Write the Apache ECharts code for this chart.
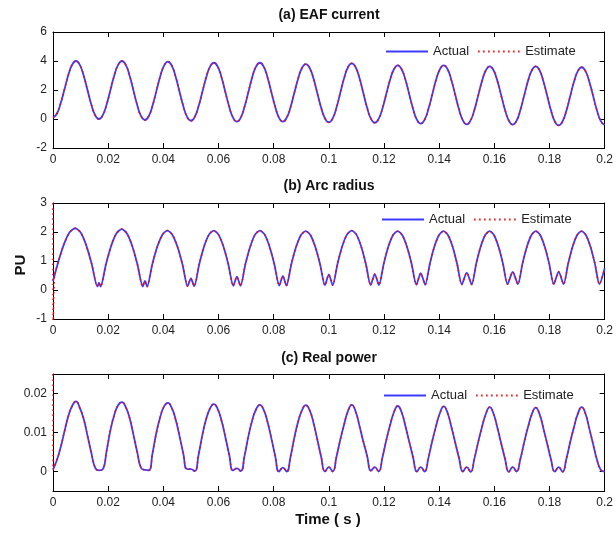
<!DOCTYPE html>
<html>
<head>
<meta charset="utf-8">
<script src="https://cdn.jsdelivr.net/npm/echarts@6/dist/echarts.min.js"></script>
<style>
  html, body { margin: 0; background: #fff; }
  #main { width: 616px; height: 534px; }
</style>
</head>
<body>
<div id="main"></div>
<script>
// sample times (s) for plots (a) and (c)
const time = [
  0, 0.00139, 0.00278, 0.00417, 0.00556, 0.00694, 0.00833, 0.00972, 0.01111, 0.0125, 0.01389, 0.01528,
  0.01667, 0.01806, 0.01944, 0.02083, 0.02222, 0.02361, 0.025, 0.02639, 0.02778, 0.02917, 0.03056, 0.03194,
  0.03333, 0.03472, 0.03611, 0.0375, 0.03889, 0.04028, 0.04167, 0.04306, 0.04444, 0.04583, 0.04722, 0.04861,
  0.05, 0.05139, 0.05278, 0.05417, 0.05556, 0.05694, 0.05833, 0.05972, 0.06111, 0.0625, 0.06389, 0.06528,
  0.06667, 0.06806, 0.06944, 0.07083, 0.07222, 0.07361, 0.075, 0.07639, 0.07778, 0.07917, 0.08056, 0.08194,
  0.08333, 0.08472, 0.08611, 0.0875, 0.08889, 0.09028, 0.09167, 0.09306, 0.09444, 0.09583, 0.09722, 0.09861,
  0.1, 0.10139, 0.10278, 0.10417, 0.10556, 0.10694, 0.10833, 0.10972, 0.11111, 0.1125, 0.11389, 0.11528,
  0.11667, 0.11806, 0.11944, 0.12083, 0.12222, 0.12361, 0.125, 0.12639, 0.12778, 0.12917, 0.13056, 0.13194,
  0.13333, 0.13472, 0.13611, 0.1375, 0.13889, 0.14028, 0.14167, 0.14306, 0.14444, 0.14583, 0.14722, 0.14861,
  0.15, 0.15139, 0.15278, 0.15417, 0.15556, 0.15694, 0.15833, 0.15972, 0.16111, 0.1625, 0.16389, 0.16528,
  0.16667, 0.16806, 0.16944, 0.17083, 0.17222, 0.17361, 0.175, 0.17639, 0.17778, 0.17917, 0.18056, 0.18194,
  0.18333, 0.18472, 0.18611, 0.1875, 0.18889, 0.19028, 0.19167, 0.19306, 0.19444, 0.19583, 0.19722, 0.19861,
  0.2
]

// (a) EAF current
const eafCurrent = [
  0.1, 0.36, 1.08, 2.05, 3.03, 3.74, 4.0, 3.73, 3.0, 2.0, 1.0, 0.27,
  0.0, 0.27, 1.0, 2.0, 3.0, 3.73, 4.0, 3.73, 2.98, 1.97, 0.95, 0.20,
  -0.07, 0.20, 0.94, 1.94, 2.95, 3.68, 3.95, 3.68, 2.93, 1.92, 0.90, 0.15,
  -0.12, 0.15, 0.88, 1.88, 2.88, 3.61, 3.88, 3.61, 2.87, 1.85, 0.84, 0.09,
  -0.18, 0.09, 0.84, 1.85, 2.87, 3.61, 3.88, 3.61, 2.87, 1.85, 0.84, 0.09,
  -0.18, 0.09, 0.81, 1.81, 2.80, 3.52, 3.79, 3.52, 2.79, 1.78, 0.78, 0.04,
  -0.23, 0.04, 0.79, 1.81, 2.82, 3.57, 3.84, 3.57, 2.82, 1.79, 0.77, 0.01,
  -0.26, 0.01, 0.73, 1.72, 2.71, 3.43, 3.70, 3.43, 2.70, 1.69, 0.69, -0.05,
  -0.32, -0.05, 0.69, 1.69, 2.70, 3.43, 3.70, 3.43, 2.68, 1.67, 0.65, -0.10,
  -0.37, -0.10, 0.63, 1.63, 2.63, 3.36, 3.63, 3.36, 2.63, 1.62, 0.62, -0.12,
  -0.39, -0.12, 0.62, 1.62, 2.63, 3.36, 3.63, 3.36, 2.61, 1.60, 0.58, -0.17,
  -0.44, -0.17, 0.56, 1.57, 2.57, 3.30, 3.57, 3.30, 2.57, 1.58, 0.58, -0.15,
  -0.42
]

// (c) Real power
const realPower = [
  0.0005, 0.0029, 0.0062, 0.0103, 0.0142, 0.0168, 0.018, 0.0163, 0.0135, 0.0092, 0.0048, 0.001,
  0.0003, 0.0006, 0.0053, 0.0106, 0.0145, 0.017, 0.0178, 0.0165, 0.0137, 0.0094, 0.0049, 0.0009,
  0.0004, 0.0003, 0.0048, 0.01, 0.014, 0.0167, 0.0176, 0.0163, 0.0134, 0.0092, 0.0047, 0.0006,
  0.0006, 0.0001, 0.0043, 0.0094, 0.0135, 0.0162, 0.0173, 0.016, 0.013, 0.0088, 0.0043, 0.0003,
  0.0008, 0.0001, 0.004, 0.009, 0.0131, 0.0159, 0.0171, 0.0158, 0.0127, 0.0085, 0.004, 0.0,
  0.001, 0.0, 0.0038, 0.0087, 0.0128, 0.0157, 0.017, 0.0157, 0.0125, 0.0082, 0.0038, 0.0,
  0.0011, 0.0, 0.0038, 0.0082, 0.0121, 0.0155, 0.0171, 0.0154, 0.0117, 0.0077, 0.004, 0.0002,
  0.0011, 0.0, 0.0036, 0.008, 0.0119, 0.0152, 0.0168, 0.0152, 0.0116, 0.0076, 0.0036, 0.0,
  0.0011, 0.0, 0.0035, 0.0078, 0.0117, 0.015, 0.0167, 0.015, 0.0114, 0.0074, 0.0034, 0.0,
  0.0011, -0.0001, 0.0033, 0.0076, 0.0115, 0.0148, 0.0165, 0.0148, 0.0112, 0.0072, 0.0032, -0.0001,
  0.0011, 0.0, 0.0032, 0.0075, 0.0114, 0.0147, 0.0164, 0.0147, 0.0111, 0.0071, 0.0031, 0.0,
  0.0011, -0.0001, 0.0032, 0.0075, 0.0114, 0.0148, 0.0165, 0.0148, 0.011, 0.007, 0.003, 0.0004,
  0.0
]

// (b) Arc radius, own sample times (notch around every zero of the current)
const timeArc = [
  0, 0.00201, 0.00402, 0.00603, 0.00804, 0.01004, 0.01205, 0.01406,
  0.01607, 0.01667, 0.01727, 0.01918, 0.02108, 0.02299, 0.0249, 0.02681, 0.02872, 0.03062,
  0.03253, 0.03333, 0.03413, 0.03596, 0.0378, 0.03963, 0.04147, 0.0433, 0.04513, 0.04697,
  0.0488, 0.05, 0.0512, 0.05297, 0.05474, 0.05651, 0.05828, 0.06005, 0.06182, 0.0636,
  0.06537, 0.06667, 0.06797, 0.06973, 0.07149, 0.07324, 0.075, 0.07676, 0.07852, 0.08027,
  0.08203, 0.08333, 0.08463, 0.08638, 0.08812, 0.08987, 0.09162, 0.09336, 0.09511, 0.09685,
  0.0986, 0.1, 0.1014, 0.10312, 0.10484, 0.10656, 0.10829, 0.11001, 0.11173, 0.11345,
  0.11517, 0.11667, 0.11817, 0.11987, 0.12156, 0.12326, 0.12495, 0.12665, 0.12834, 0.13004,
  0.13173, 0.13333, 0.13493, 0.13659, 0.13825, 0.13991, 0.14157, 0.14322, 0.14488, 0.14654,
  0.1482, 0.15, 0.1518, 0.15342, 0.15504, 0.15666, 0.15829, 0.15991, 0.16153, 0.16315,
  0.16477, 0.16667, 0.16857, 0.17019, 0.17181, 0.17343, 0.17505, 0.17667, 0.17829, 0.17991,
  0.18153, 0.18333, 0.18513, 0.18675, 0.18837, 0.18999, 0.19162, 0.19324, 0.19486, 0.19648,
  0.1981, 0.2
]
const arcRadius = [
  0.3, 1.0, 1.59, 1.99, 2.13, 1.98, 1.54, 0.89,
  0.12, 0.25, 0.12, 0.88, 1.52, 1.95, 2.1, 1.95, 1.52, 0.88,
  0.12, 0.31, 0.12, 0.87, 1.49, 1.9, 2.05, 1.9, 1.49, 0.87,
  0.13, 0.40, 0.13, 0.87, 1.49, 1.9, 2.05, 1.9, 1.49, 0.87,
  0.14, 0.46, 0.14, 0.88, 1.49, 1.91, 2.05, 1.91, 1.49, 0.88,
  0.15, 0.49, 0.15, 0.88, 1.48, 1.89, 2.03, 1.89, 1.48, 0.88,
  0.16, 0.54, 0.16, 0.89, 1.5, 1.91, 2.05, 1.91, 1.5, 0.89,
  0.17, 0.55, 0.17, 0.89, 1.49, 1.89, 2.03, 1.89, 1.49, 0.89,
  0.18, 0.58, 0.18, 0.89, 1.49, 1.89, 2.03, 1.89, 1.49, 0.89,
  0.19, 0.6, 0.19, 0.9, 1.49, 1.89, 2.03, 1.89, 1.49, 0.9,
  0.2, 0.62, 0.2, 0.9, 1.49, 1.89, 2.03, 1.89, 1.49, 0.9,
  0.2, 0.63, 0.2, 0.9, 1.49, 1.89, 2.03, 1.89, 1.49, 0.9,
  0.2, 0.75
]

// estimator start-up transient (runs off the axes at t = 0)
const estHeadTimeArc = [0, 0.00005, 0.0006]
const estHeadArc = [3.5, -1.5, 0.5]
const estHeadTimePower = [0, 0.00005]
const estHeadPower = [0.03, 0.0005]

const xRange = [0, 0.2, 0.02]
const yRanges = [[-2, 6, 2], [-1, 3, 1], [-0.005, 0.025, 0.005]]
const powerTicks = [0, 0.01, 0.02]
const titles = ['(a) EAF current', '(b) Arc radius', '(c) Real power']

const gridTops = [32, 203, 374]
const gridHeights = [116, 116, 117]
const legendTops = [45, 213, 389]
const legendLefts = [385, 381, 383]
const titleYs = [15, 186, 358]

const zip = (xs, ys) => xs.map((x, i) => [x, ys[i]])
const FONT = '"Liberation Sans", Arial, sans-serif'

const chart = echarts.init(document.getElementById('main'))

const xAxes = []
const yAxes = []
const grids = []
for (let g = 0; g < 3; g++) {
  grids.push({ left: 53, right: 8, top: gridTops[g], height: gridHeights[g], containLabel: false })
  // box: bottom/top and left/right axes, ticks pointing in like matlab
  for (const pos of ['bottom', 'top']) {
    xAxes.push({
      type: 'value', gridIndex: g, position: pos,
      min: xRange[0], max: xRange[1], interval: xRange[2],
      axisLine: { onZero: false, lineStyle: { color: '#000', width: 1 } },
      axisTick: { inside: true, length: 5, lineStyle: { color: '#000' } },
      axisLabel: { show: pos === 'bottom', margin: 6, fontSize: 12, color: '#222', fontFamily: FONT },
      splitLine: { show: false }
    })
  }
  for (const pos of ['left', 'right']) {
    const ax = {
      type: 'value', gridIndex: g, position: pos,
      min: yRanges[g][0], max: yRanges[g][1], interval: yRanges[g][2],
      axisLine: { onZero: false, lineStyle: { color: '#000', width: 1 } },
      axisTick: { inside: true, length: 5, lineStyle: { color: '#000' } },
      axisLabel: { show: pos === 'left', margin: 6, fontSize: 12, color: '#222', fontFamily: FONT },
      splitLine: { show: false }
    }
    if (g === 2) {
      ax.axisTick.customValues = powerTicks
      ax.axisLabel.customValues = powerTicks
    }
    yAxes.push(ax)
  }
}

const actualStyle = { color: '#3c3cff', width: 1.8 }
const estimateStyle = { color: '#ff0000', width: 1.5, type: [1.5, 3.5] }

function pair (g, actual, estimate) {
  const sm = g === 1 ? 0.25 : 0.5
  return [
    { name: 'Actual', type: 'line', xAxisIndex: g * 2, yAxisIndex: g * 2, data: actual,
      symbol: 'none', smooth: sm, color: '#3c3cff', lineStyle: actualStyle, z: 2, animation: false },
    { name: 'Estimate', type: 'line', xAxisIndex: g * 2, yAxisIndex: g * 2, data: estimate,
      symbol: 'none', smooth: sm, color: '#ff0000', lineStyle: estimateStyle, z: 3, animation: false }
  ]
}

const currentData = zip(time, eafCurrent)
const arcData = zip(timeArc, arcRadius)
const powerData = zip(time, realPower)

const option = {
  backgroundColor: '#fff',
  textStyle: { fontFamily: FONT },
  grid: grids,
  xAxis: xAxes,
  yAxis: yAxes,
  legend: [0, 1, 2].map(g => ({
    top: legendTops[g], left: legendLefts[g], padding: 0,
    itemWidth: 42, itemHeight: 14, itemGap: 8, orient: 'horizontal',
    itemStyle: { opacity: 0 },
    textStyle: { fontSize: 13, color: '#222', fontFamily: FONT },
    data: ['Actual', 'Estimate']
  })),
  graphic: [
    ...titles.map((t, g) => ({
      type: 'text', x: 329, y: titleYs[g],
      style: { text: t, align: 'center', verticalAlign: 'middle', font: 'bold 14px ' + FONT, fill: '#111' }
    })),
    { type: 'text', x: 21, y: 265, rotation: Math.PI / 2,
      style: { text: 'PU', align: 'center', verticalAlign: 'middle', font: 'bold 15px ' + FONT, fill: '#111' } },
    { type: 'text', x: 328, y: 520,
      style: { text: 'Time ( s )', align: 'center', verticalAlign: 'middle', font: 'bold 15px ' + FONT, fill: '#111' } }
  ],
  series: [
    ...pair(0, currentData, currentData),
    ...pair(1, arcData, zip(estHeadTimeArc, estHeadArc).concat(arcData.slice(1))),
    ...pair(2, powerData, zip(estHeadTimePower, estHeadPower).concat(powerData.slice(1)))
  ]
}

chart.setOption(option)
window.onresize = () => chart.resize()
</script>
</body>
</html>
